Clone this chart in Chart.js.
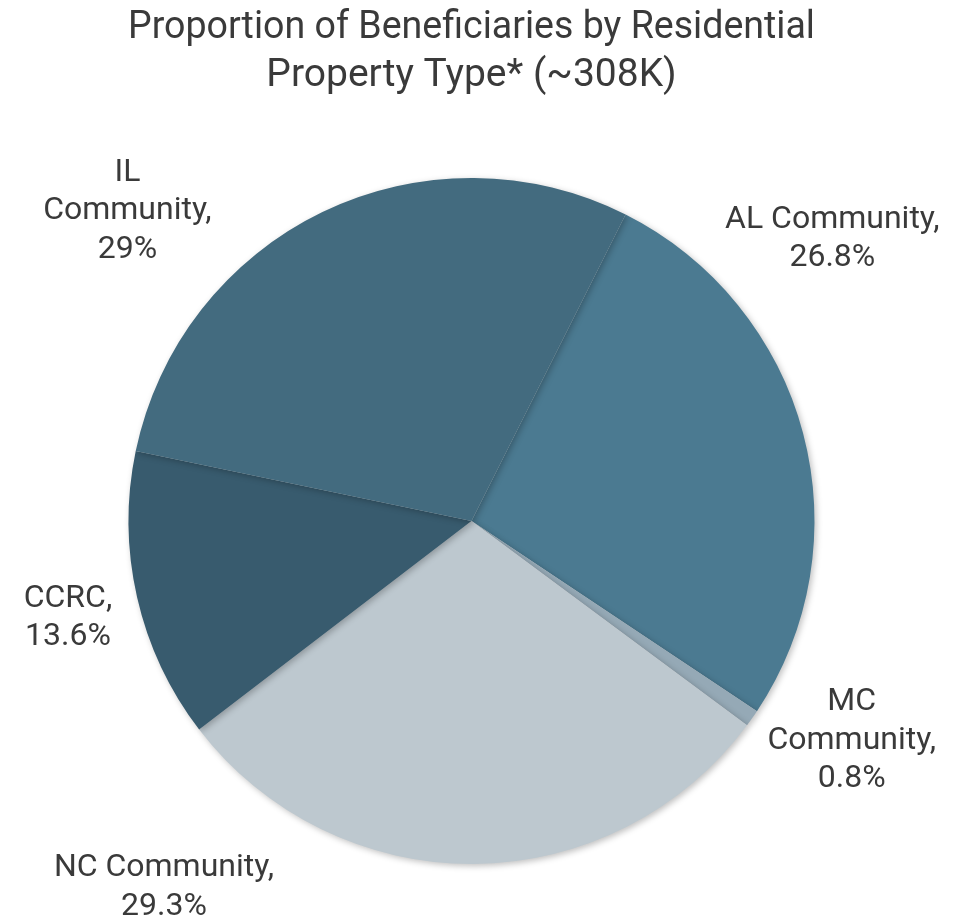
<!DOCTYPE html>
<html>
<head>
<meta charset="utf-8">
<script src="https://cdn.jsdelivr.net/npm/chart.js@4"></script>
<style>
  html, body { margin: 0; padding: 0; background: #ffffff; }
  #wrap { width: 969px; height: 921px; }
</style>
</head>
<body>
<div id="wrap"><canvas id="pieChart"></canvas></div>
<script>
// data
const labels = ['AL Community', 'MC Community', 'NC Community', 'CCRC', 'IL Community'];
const shares = [26.8, 0.8, 29.3, 13.6, 29];
const labelLines = [
  ['AL Community,', '26.8%'],
  ['MC', 'Community,', '0.8%'],
  ['NC Community,', '29.3%'],
  ['CCRC,', '13.6%'],
  ['IL', 'Community,', '29%']
];
const sliceColors = ['#4b7a91', '#95a9b6', '#bdc8cf', '#385b6e', '#436b7f'];

// where each outside label sits: angle (deg, clockwise from top) and distance in radii
const labelSpots = [
  { angle: 52, dist: 1.335 },
  { angle: 120, dist: 1.28 },
  { angle: 220, dist: 1.395 },
  { angle: 256.5, dist: 1.21 },
  { angle: -48, dist: 1.35 }
];

const shadowPlugin = {
  id: 'pieShadow',
  beforeDatasetsDraw(chart) {
    const ctx = chart.ctx;
    ctx.save();
    ctx.shadowColor = 'rgba(0, 0, 0, 0.25)';
    ctx.shadowBlur = 6;
    ctx.shadowOffsetX = 2;
    ctx.shadowOffsetY = 2;
  },
  afterDatasetsDraw(chart) {
    chart.ctx.restore();
  }
};

const outsideLabels = {
  id: 'outsideLabels',
  afterDraw(chart) {
    const ctx = chart.ctx;
    const arcs = chart.getDatasetMeta(0).data;
    if (!arcs.length) return;
    const cx = arcs[0].x, cy = arcs[0].y, r = arcs[0].outerRadius;
    const lineH = 38.5;
    ctx.save();
    ctx.font = '32px Roboto';
    ctx.fillStyle = '#3a3a3a';
    ctx.textAlign = 'center';
    ctx.textBaseline = 'middle';
    labelLines.forEach((lines, i) => {
      const spot = labelSpots[i];
      const a = spot.angle * Math.PI / 180;
      const x = cx + Math.sin(a) * r * spot.dist;
      const y = cy - Math.cos(a) * r * spot.dist;
      const top = y - (lines.length - 1) * lineH / 2;
      lines.forEach((t, k) => ctx.fillText(t, x, top + k * lineH));
    });
    ctx.restore();
  }
};

new Chart(document.getElementById('pieChart'), {
  type: 'pie',
  data: {
    labels: labels,
    datasets: [{
      data: shares,
      backgroundColor: sliceColors,
      borderWidth: 0
    }]
  },
  options: {
    responsive: true,
    maintainAspectRatio: false,
    animation: false,
    rotation: 26.7,
    layout: { padding: { left: 128, right: 154, top: 0, bottom: 57 } },
    plugins: {
      legend: { display: false },
      tooltip: { enabled: false },
      title: {
        display: true,
        text: ['Proportion of Beneficiaries by Residential', 'Property Type* (~308K)'],
        color: '#3a3a3a',
        font: { family: 'Roboto', size: 39, weight: 'normal', lineHeight: 1.231 },
        padding: { top: 4, bottom: 78 }
      }
    }
  },
  plugins: [shadowPlugin, outsideLabels]
});
</script>
</body>
</html>
